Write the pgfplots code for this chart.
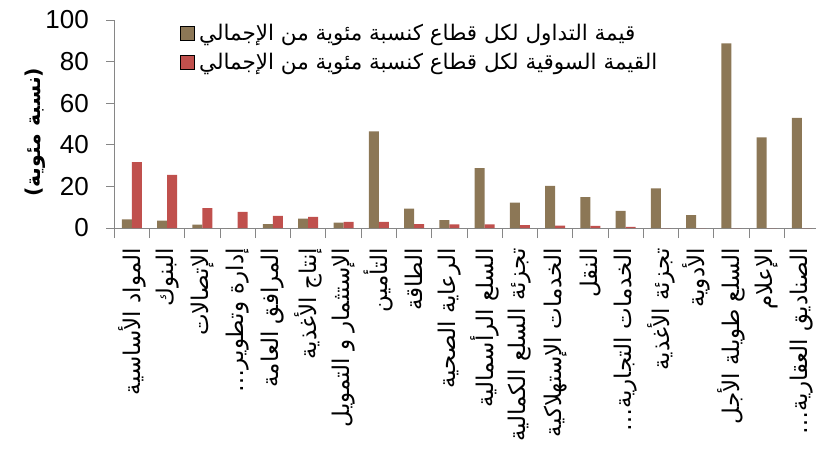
\documentclass[border=0pt]{standalone}
\usepackage{fontspec}
\setmainfont{Liberation Sans}
\newfontfamily\arabicfont[Script=Arabic]{DejaVu Sans}
\TeXXeTstate=1
\usepackage{pgfplots}
\pgfplotsset{compat=1.18}
\definecolor{brownbar}{RGB}{140,119,86}
\definecolor{redbar}{RGB}{192,80,77}
\definecolor{axisgray}{RGB}{134,134,134}
\begin{document}
\begin{tikzpicture}
\path[use as bounding box] (0,0) rectangle (816bp,455bp);
\begin{axis}[
  scale only axis, width=701.7bp, height=208bp,
  anchor=south west, at={(114.3bp,227bp)},
  xmin=-0.5, xmax=19.4, ymin=0, ymax=100,
  ybar=0pt, bar width=10bp,
  axis lines*=left,
  axis line style={axisgray, line width=0.8bp},
  tick style={axisgray, line width=0.8bp},
  tick align=outside,
  xtick={0,...,19},
  major x tick style={draw=none},
  minor xtick={-0.5,0.5,...,18.5},
  minor tick length=10bp,
  major tick length=8bp,
  ytick={0,20,...,100},
  /pgf/number format/assume math mode=true,
  yticklabel style={font=\fontsize{26bp}{31bp}\selectfont, xshift=-14bp},
  xticklabels={
    {\arabicfont\beginR المواد الأساسية\endR},
    {\arabicfont\beginR البنوك\endR},
    {\arabicfont\beginR الإتصالات\endR},
    {\arabicfont\beginR إدارة وتطوير…\endR},
    {\arabicfont\beginR المرافق العامة\endR},
    {\arabicfont\beginR إنتاج الأغذية\endR},
    {\arabicfont\beginR الإستثمار و التمويل\endR},
    {\arabicfont\beginR التأمين\endR},
    {\arabicfont\beginR الطاقة\endR},
    {\arabicfont\beginR الرعاية الصحية\endR},
    {\arabicfont\beginR السلع الرأسمالية\endR},
    {\arabicfont\beginR تجزئة السلع الكمالية\endR},
    {\arabicfont\beginR الخدمات الإستهلاكية\endR},
    {\arabicfont\beginR النقل\endR},
    {\arabicfont\beginR الخدمات التجارية…\endR},
    {\arabicfont\beginR تجزئة الأغذية\endR},
    {\arabicfont\beginR الأدوية\endR},
    {\arabicfont\beginR السلع طويلة الأجل\endR},
    {\arabicfont\beginR الإعلام\endR},
    {\arabicfont\beginR الصناديق العقارية…\endR}
  },
  xticklabel style={rotate=90, anchor=east, inner sep=0pt, font=\fontsize{23bp}{27bp}\selectfont, xshift=-12bp},
  ylabel={\arabicfont\bfseries\beginR (نسبة مئوية)\endR},
  ylabel style={at={(axis description cs:-0.112,0.46)}, anchor=center, font=\fontsize{20.5bp}{24bp}\selectfont},
  legend style={at={(0.093,0.99)}, anchor=north west, draw=none, fill=none,
    font=\fontsize{21.5bp}{26bp}\selectfont, row sep=7bp, inner sep=0pt,
    nodes={inner xsep=5bp}},
  legend cell align=left,
  legend image code/.code={\draw[#1] (0bp,-7bp) rectangle (14bp,7bp);},
]
\addplot[fill=brownbar, draw=none] coordinates {
 (0,4.2) (1,3.5) (2,1.6) (3,0) (4,1.9) (5,4.5) (6,2.6) (7,46.5) (8,9.3) (9,3.8)
 (10,28.8) (11,12.2) (12,20.2) (13,14.9) (14,8.2) (15,19.1) (16,6.2) (17,88.8) (18,43.6) (19,53.0)};
\addplot[fill=redbar, draw=none] coordinates {
 (0,31.7) (1,25.5) (2,9.6) (3,7.7) (4,5.8) (5,5.3) (6,3.0) (7,2.9) (8,1.9) (9,1.8)
 (10,1.8) (11,1.4) (12,1.2) (13,1.0) (14,0.5) (15,0) (16,0) (17,0) (18,0) (19,0)};
\legend{{\arabicfont\beginR قيمة التداول لكل قطاع كنسبة مئوية من الإجمالي\endR},{\arabicfont\beginR القيمة السوقية لكل قطاع كنسبة مئوية من الإجمالي\endR}}
\end{axis}
\end{tikzpicture}
\end{document}
